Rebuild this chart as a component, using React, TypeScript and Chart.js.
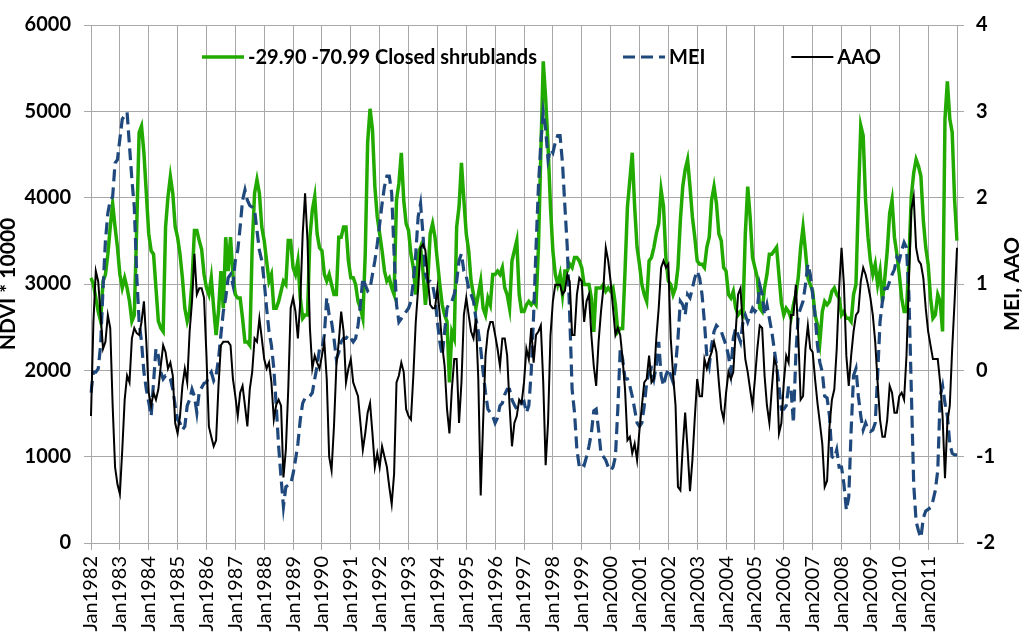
import React, { useEffect, useRef } from 'react';
import { Chart, registerables } from 'chart.js';

Chart.register(...registerables);

// ---- categories ----
const years = [1982, 1983, 1984, 1985, 1986, 1987, 1988, 1989, 1990, 1991, 1992, 1993, 1994, 1995, 1996,
  1997, 1998, 1999, 2000, 2001, 2002, 2003, 2004, 2005, 2006, 2007, 2008, 2009, 2010, 2011, 2012];
const monthNames = ['Jan', 'Feb', 'Mar', 'Apr', 'May', 'Jun', 'Jul', 'Aug', 'Sep', 'Oct', 'Nov', 'Dec'];
const monthLabels = years.flatMap((y) => monthNames.map((m) => m + y)).slice(0, 361);

// ---- series (monthly, Jan1982 .. Jan2012) ----
const ndvi = [
  3070, 2995, 2840, 2680, 2570, 3030, 3110, 3345, 3660, 3930, 3660, 3425,
  3110, 2955, 3070, 2955, 2800, 2570, 2640, 3660, 4755, 4830, 4520, 4050,
  3580, 3385, 3345, 2955, 2570, 2490, 2450, 3660, 4010, 4245, 4050, 3660,
  3540, 3345, 3070, 2720, 2570, 2680, 3030, 3620, 3620, 3500, 3400, 3110,
  2955, 2877, 3072, 2720, 2407, 2681, 3150, 2720, 3542, 3150, 3542, 3111,
  2877, 2838, 2838, 2603, 2329, 2329, 2290, 3425, 4051, 4207, 4051, 3659,
  3503, 3268, 3033, 3111, 2720, 2720, 2798, 2916, 3033, 2994, 3503, 3503,
  3190, 3111, 3268, 2838, 2603, 2642, 2642, 3542, 3855, 4012, 3581, 3420,
  3385, 3111, 3033, 3111, 2994, 2877, 2877, 3542, 3542, 3659, 3659, 3268,
  3072, 3072, 2994, 2798, 2720, 2603, 3346, 4638, 5029, 4794, 4129, 3777,
  3581, 3385, 3150, 3033, 3072, 2955, 2877, 3973, 4168, 4520, 3973, 3699,
  3620, 3346, 3190, 2877, 3346, 3425, 3150, 2759, 3033, 3581, 3699, 3542,
  3268, 2994, 2759, 2642, 2564, 1859, 2446, 2368, 3659, 3894, 4403, 3973,
  3581, 3385, 3033, 2877, 2720, 2877, 3033, 2720, 2642, 2838, 2759, 3111,
  3111, 3150, 3111, 3190, 2955, 2877, 2720, 3268, 3385, 3503, 2877, 2681,
  2681, 2759, 2798, 2759, 2798, 2759, 3425, 4520, 5580, 5150, 4600, 3900,
  3385, 3111, 2994, 3111, 2877, 3150, 3150, 3229, 3190, 3307, 3307, 3268,
  3190, 2994, 2994, 2994, 2838, 2446, 2955, 2955, 2955, 2994, 2916, 2955,
  2916, 2955, 2759, 2446, 2485, 2485, 3150, 3894, 4207, 4520, 3894, 3425,
  3229, 2994, 2877, 2798, 3268, 3307, 3425, 3581, 3699, 4090, 3900, 3300,
  3033, 2994, 2877, 2955, 3190, 3738, 4129, 4325, 4442, 4129, 3777, 3542,
  3268, 3229, 3229, 3190, 3425, 3542, 3973, 4129, 3933, 3581, 3503, 3190,
  3150, 2877, 2838, 2916, 2720, 2642, 2681, 2642, 3581, 4129, 3777, 3307,
  3190, 3072, 2720, 2681, 2955, 3111, 3346, 3346, 3385, 3425, 3100, 2780,
  2642, 2720, 2681, 2603, 2759, 2877, 3072, 3425, 3659, 3385, 3072, 2994,
  2916, 2642, 2524, 2329, 2681, 2798, 2759, 2798, 2916, 2955, 2877, 2838,
  2642, 2681, 2603, 2603, 2564, 2877, 2994, 3973, 4834, 4716, 3973, 3542,
  3268, 3111, 3229, 2994, 3150, 2798, 3072, 3385, 3816, 3973, 3542, 3346,
  3111, 2838, 2681, 2681, 3268, 4012, 4286, 4442, 4364, 4247, 3738, 3425,
  3229, 2838, 2603, 2642, 2877, 2798, 2450, 4912, 5346, 4912, 4755, 3973,
  3503,
];

const mei = [
  -0.26, -0.02, -0.02, 0.02, 0.29, 0.95, 1.50, 1.82, 1.97, 2.01, 2.40, 2.44,
  2.68, 2.91, 2.95, 2.99, 2.60, 2.21, 1.89, 1.11, 0.56, 0.33, -0.02, -0.22,
  -0.37, -0.53, -0.14, 0.25, 0.17, -0.02, -0.10, -0.06, -0.06, -0.10, -0.22, -0.41,
  -0.57, -0.61, -0.69, -0.65, -0.41, -0.34, -0.22, -0.30, -0.49, -0.25, -0.20, -0.15,
  -0.14, -0.06, -0.02, -0.12, -0.06, 0.13, 0.41, 0.68, 0.84, 1.07, 1.11, 0.99,
  1.27, 1.39, 1.66, 1.97, 2.09, 1.97, 1.91, 1.89, 1.86, 1.62, 1.39, 1.27,
  1.03, 0.72, 0.45, 0.29, 0.02, -0.41, -0.88, -1.24, -1.58, -1.35, -1.33, -1.32,
  -1.20, -1.04, -0.85, -0.57, -0.38, -0.32, -0.32, -0.30, -0.26, -0.10, 0.05, 0.25,
  0.25, 0.41, 0.84, 0.64, 0.56, 0.37, 0.13, 0.21, 0.33, 0.37, 0.37, 0.41,
  0.37, 0.33, 0.37, 0.52, 0.76, 1.07, 0.99, 0.92, 0.95, 1.11, 1.27, 1.46,
  1.69, 1.93, 2.13, 2.25, 2.25, 2.05, 1.35, 0.76, 0.56, 0.60, 0.64, 0.68,
  0.72, 0.80, 1.03, 1.35, 1.78, 1.93, 1.58, 1.11, 1.03, 1.03, 0.99, 0.84,
  0.56, 0.33, 0.17, 0.45, 0.72, 0.78, 0.80, 0.88, 1.03, 1.27, 1.35, 1.15,
  1.09, 0.95, 0.88, 0.80, 0.60, 0.45, 0.25, -0.02, -0.26, -0.45, -0.49, -0.53,
  -0.61, -0.55, -0.41, -0.38, -0.28, -0.22, -0.22, -0.34, -0.40, -0.45, -0.40, -0.38,
  -0.36, -0.49, -0.41, -0.02, 0.64, 1.42, 2.13, 2.64, 2.99, 2.79, 2.44, 2.56,
  2.52, 2.64, 2.72, 2.72, 2.40, 1.90, 1.42, 0.64, -0.22, -0.49, -0.92, -1.12,
  -1.08, -1.10, -1.00, -0.88, -0.73, -0.47, -0.45, -0.69, -0.96, -1.00, -1.04, -1.12,
  -1.16, -1.12, -1.00, -0.45, 0.25, 0.13, -0.10, -0.10, -0.18, -0.30, -0.45, -0.61,
  -0.65, -0.61, -0.41, -0.14, -0.02, 0.02, -0.10, 0.05, 0.33, -0.06, -0.18, -0.06,
  0.02, -0.06, -0.14, 0.05, 0.37, 0.80, 0.76, 0.64, 0.88, 0.84, 0.95, 1.07,
  1.15, 1.07, 0.88, 0.56, 0.17, 0.05, 0.29, 0.45, 0.52, 0.49, 0.45, 0.37,
  0.29, 0.17, -0.02, 0.37, 0.49, 0.41, 0.33, 0.56, 0.64, 0.56, 0.64, 0.72,
  0.68, 0.72, 0.99, 0.88, 0.64, 0.76, 0.60, 0.45, 0.25, 0.05, -0.18, -0.45,
  -0.45, -0.41, -0.18, -0.22, -0.61, 0.17, 0.64, 0.72, 0.80, 0.99, 1.23, 1.11,
  0.88, 0.64, 0.29, 0.09, -0.02, -0.30, -0.32, -0.53, -1.00, -1.02, -0.92, -1.12,
  -1.12, -1.32, -1.62, -1.47, -0.69, -0.06, 0.02, -0.30, -0.53, -0.69, -0.61, -0.69,
  -0.71, -0.69, -0.61, -0.06, 0.56, 0.80, 0.95, 0.95, 1.03, 1.11, 1.17, 1.31,
  1.27, 1.39, 1.48, 1.42, 0.88, -0.22, -1.32, -1.75, -1.86, -1.94, -1.71, -1.63,
  -1.61, -1.59, -1.51, -1.39, -1.16, -0.30, -0.18, -0.38, -0.53, -0.85, -0.96, -0.98,
  -0.98,
];

const aao = [
  -0.53, 0.56, 1.15, 1.03, 0.64, 0.25, 0.33, 0.64, 0.49, -0.41, -1.12, -1.32,
  -1.43, -0.92, -0.34, -0.06, -0.14, 0.37, 0.49, 0.43, 0.41, 0.56, 0.80, 0.33,
  -0.26, -0.41, -0.26, -0.34, -0.22, 0.05, 0.29, 0.21, 0.02, 0.09, -0.06, -0.61,
  -0.73, -0.53, -0.18, 0.02, -0.14, 0.45, 0.80, 1.35, 0.88, 0.95, 0.95, 0.84,
  0.17, -0.65, -0.77, -0.88, -0.81, -0.18, 0.29, 0.33, 0.33, 0.33, 0.29, -0.10,
  -0.30, -0.53, -0.26, -0.18, -0.41, -0.65, -0.22, -0.02, 0.37, 0.33, 0.60, 0.37,
  0.13, 0.02, 0.09, -0.14, -0.57, -0.40, -0.34, -0.41, -1.24, -0.92, -0.22, 0.72,
  0.84, 0.68, 0.37, 0.80, 1.58, 2.05, 1.50, 0.49, 0.02, 0.17, 0.09, 0.02,
  0.17, 0.33, -0.10, -1.00, -1.16, -0.65, 0.05, 0.33, 0.68, 0.45, -0.14, 0.02,
  0.13, -0.14, -0.22, -0.30, -0.61, -0.92, -0.73, -0.49, -0.38, -0.73, -1.12, -0.96,
  -1.12, -0.88, -1.00, -1.12, -1.35, -1.55, -1.20, -0.14, -0.06, 0.09, -0.02, -0.45,
  -0.53, -0.57, -0.06, 0.56, 0.95, 1.42, 1.46, 1.39, 1.07, 0.76, 0.72, 0.72,
  0.95, 0.64, 0.29, 0.05, -0.45, -0.73, -0.22, 0.13, 0.13, -0.61, -0.14, 0.64,
  0.84, 0.64, 0.45, 0.37, 0.60, -0.10, -1.45, -0.60, 0.17, 0.45, 0.56, 0.56,
  0.41, 0.25, 0.05, 0.37, 0.37, 0.17, -0.41, -0.88, -0.61, -0.53, -0.34, -0.38,
  -0.14, 0.25, 0.13, 0.49, 0.09, 0.41, 0.45, 0.52, -0.14, -1.10, -0.60, 0.40,
  0.80, 0.99, 0.99, 0.99, 0.88, 0.92, 1.11, 1.03, 0.41, 0.41, 0.88, 1.07,
  1.03, 0.56, 0.80, 0.88, 0.41, 0.05, -0.18, 0.33, 0.68, 0.95, 1.42, 1.27,
  1.03, 0.72, 0.41, 0.49, 0.41, 0.13, -0.22, -0.81, -0.77, -0.96, -0.85, -1.04,
  -0.69, -0.41, -0.14, -0.10, 0.17, -0.14, -0.10, 0.37, 0.72, 1.19, 1.27, 1.19,
  1.23, 0.37, -0.06, -0.41, -1.35, -1.39, -0.88, -0.49, -0.92, -1.40, -1.04, -0.55,
  -0.10, -0.30, -0.30, 0.13, 0.02, 0.13, 0.21, 0.33, 0.21, -0.14, -0.45, -0.57,
  -0.26, -0.02, -0.10, -0.02, 0.45, 0.88, 0.95, 0.49, 0.13, -0.02, -0.22, -0.41,
  -0.10, 0.25, 0.52, 0.49, -0.06, -0.41, -0.61, -0.22, 0.13, 0.05, -0.73, -0.61,
  -0.14, 0.17, 0.09, 0.64, 0.64, 0.99, 0.41, -0.34, -0.30, 0.25, 0.52, 0.25,
  0.21, -0.10, -0.38, -0.61, -0.85, -1.35, -1.28, -0.65, -0.34, -0.22, 0.25, 0.95,
  1.42, 0.99, 0.17, -0.18, 0.17, 0.45, 0.64, 0.68, 1.03, 1.19, 1.11, 0.99,
  0.84, 0.64, 0.33, -0.14, -0.57, -0.77, -0.77, -0.57, -0.18, -0.26, -0.49, -0.49,
  -0.30, -0.26, -0.34, 0.17, 1.03, 1.86, 2.01, 1.42, 1.27, 1.23, 1.07, 0.72,
  0.45, 0.29, 0.13, 0.13, 0.13, -0.14, -0.53, -1.25, -0.60, -0.41, 0.25, 0.80,
  1.42,
];

const seriesNames = ['-29.90 -70.99 Closed shrublands', 'MEI', 'AAO'];
const leftTitle = 'NDVI * 10000';
const rightTitle = 'MEI, AAO';

const FONT = 'Lato, "Open Sans", sans-serif';

const overlayPlugin = {
  id: 'overlay',
  afterDraw(chart: any) {
    const { ctx, chartArea } = chart;
    ctx.save();
    // legend inside plot area
    ctx.font = `bold 20px ${FONT}`;
    ctx.textBaseline = 'middle';
    ctx.textAlign = 'left';
    ctx.fillStyle = '#000';
    let x = chartArea.left + 111;
    const y = chartArea.top + 32;
    chart.data.datasets.forEach((ds: any) => {
      ctx.save();
      ctx.strokeStyle = ds.borderColor;
      ctx.lineWidth = ds.borderWidth;
      ctx.setLineDash(ds.borderDash || []);
      ctx.beginPath();
      ctx.moveTo(x, y);
      ctx.lineTo(x + 42, y);
      ctx.stroke();
      ctx.restore();
      x += 46;
      ctx.fillText(ds.label, x, y + 1);
      x += ctx.measureText(ds.label).width + 86;
    });
    // right axis title, reading bottom to top
    ctx.font = `bold 21px ${FONT}`;
    ctx.textAlign = 'center';
    ctx.translate(chartArea.right + 55, (chartArea.top + chartArea.bottom) / 2);
    ctx.rotate(-Math.PI / 2);
    ctx.fillText(rightTitle, 0, 0);
    ctx.restore();
  },
};

export default function App() {
  const canvasRef = useRef<HTMLCanvasElement | null>(null);

  useEffect(() => {
    const canvas = canvasRef.current;
    if (!canvas) return;
    const gridColor = '#a8a8a8';
    const chart = new Chart(canvas, {
      type: 'line',
      data: {
        labels: monthLabels,
        datasets: [
          {
            label: seriesNames[0],
            data: ndvi,
            yAxisID: 'y',
            borderColor: '#22aa00',
            backgroundColor: '#22aa00',
            borderWidth: 3.5,
            pointRadius: 0,
            tension: 0,
            order: 3,
          },
          {
            label: seriesNames[1],
            data: mei,
            yAxisID: 'y2',
            borderColor: '#1f497d',
            backgroundColor: '#1f497d',
            borderWidth: 3.2,
            borderDash: [12, 6],
            pointRadius: 0,
            tension: 0,
            order: 2,
          },
          {
            label: seriesNames[2],
            data: aao,
            yAxisID: 'y2',
            borderColor: '#000000',
            backgroundColor: '#000000',
            borderWidth: 2,
            pointRadius: 0,
            tension: 0,
            order: 1,
          },
        ],
      },
      options: {
        responsive: false,
        animation: false,
        events: [],
        layout: { padding: { top: 7, left: 0, right: 0, bottom: 0 } },
        plugins: {
          legend: { display: false },
          tooltip: { enabled: false },
          title: { display: false },
        },
        scales: {
          x: {
            type: 'category',
            offset: false,
            afterFit: (s: any) => { s.height = 89; },
            grid: {
              color: gridColor,
              lineWidth: 1,
              offset: false,
              drawTicks: true,
              tickLength: 7,
            },
            border: { color: gridColor },
            ticks: {
              autoSkip: false,
              minRotation: 90,
              maxRotation: 90,
              padding: 6,
              color: '#000',
              font: { family: FONT, size: 20 },
              callback: (_v: any, i: number) => (i % 12 === 0 && i < 360 ? monthLabels[i] : null),
            },
          },
          y: {
            position: 'left',
            min: 0,
            max: 6000,
            afterFit: (s: any) => { s.width = 91; },
            grid: { color: gridColor, lineWidth: 1, tickLength: 7 },
            border: { color: gridColor },
            ticks: {
              stepSize: 1000,
              padding: 13,
              color: '#000',
              font: { family: FONT, size: 20, weight: 'bold' },
              callback: (v: any) => String(v),
            },
            title: {
              display: true,
              text: leftTitle,
              color: '#000',
              font: { family: FONT, size: 21, weight: 'bold', lineHeight: 0.8 },
              padding: { top: 0, bottom: 0 },
            },
          },
          y2: {
            position: 'right',
            min: -2,
            max: 4,
            afterFit: (s: any) => { s.width = 67; },
            grid: { drawOnChartArea: false, color: gridColor, tickLength: 7 },
            border: { color: gridColor },
            ticks: {
              stepSize: 1,
              padding: 12,
              color: '#000',
              font: { family: FONT, size: 20, weight: 'bold' },
              callback: (v: any) => String(v),
            },
          },
        },
      },
      plugins: [overlayPlugin],
    } as any);
    return () => chart.destroy();
  }, []);

  return (
    <div style={{ position: 'absolute', left: 0, top: 0, width: 1024, height: 632, background: '#fff' }}>
      <canvas ref={canvasRef} width={1024} height={632} style={{ width: 1024, height: 632, display: 'block' }} />
    </div>
  );
}
